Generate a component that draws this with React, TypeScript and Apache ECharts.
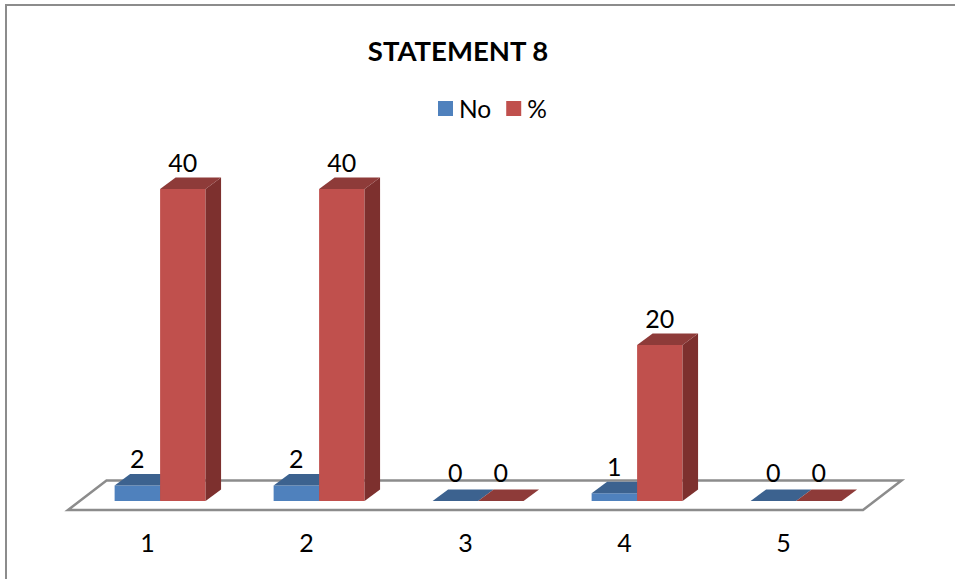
import React, { useEffect, useRef } from "react";
import * as echarts from "echarts";

const categories = ["1", "2", "3", "4", "5"];
const noValues = [2, 2, 0, 1, 0];
const pctValues = [40, 40, 0, 20, 0];
const titleText = "STATEMENT 8";
const FONT = "Lato, 'Open Sans', sans-serif";

const DX = 15.5;
const DY = 11.5;
const FLOOR_DX = 38.5;
const FLOOR_DY = 29.5;

function barRenderer(side: -1 | 1, front: string, top: string, right: string) {
  return (params: any, api: any) => {
    const cat = api.value(0);
    const val = api.value(1);
    const band = api.size([1, 0])[0];
    const w = band * 0.286;
    const base = api.coord([cat, 0]);
    const head = api.coord([cat, val]);
    const cx = base[0] + 12.6;
    const x0 = side < 0 ? cx - w : cx;
    const x1 = x0 + w;
    const yb = base[1] - 9;
    const yt = head[1] - 9;
    const poly = (points: number[][], fill: string) => ({
      type: "polygon",
      shape: { points },
      style: { fill },
    });
    return {
      type: "group",
      children: [
        ...(val > 0
          ? [
              poly([[x0, yb], [x1, yb], [x1, yt], [x0, yt]], front),
              poly([[x1, yb], [x1 + DX, yb - DY], [x1 + DX, yt - DY], [x1, yt]], right),
            ]
          : []),
        poly([[x0, yt], [x1, yt], [x1 + DX, yt - DY], [x0 + DX, yt - DY]], top),
        {
          type: "text",
          x: (x0 + x1) / 2,
          y: yt - (val > 0 ? 27 : 29),
          z2: 20,
          style: {
            text: String(val),
            fill: "#000000",
            font: `25px ${FONT}`,
            align: "center",
            verticalAlign: "middle",
          },
        },
      ],
    };
  };
}

function floorRenderer(params: any, api: any) {
  const g = params.coordSys;
  const l = g.x;
  const r = g.x + g.width;
  const b = g.y + g.height;
  return {
    type: "polygon",
    shape: {
      points: [
        [l, b],
        [r, b],
        [r + FLOOR_DX, b - FLOOR_DY],
        [l + FLOOR_DX, b - FLOOR_DY],
      ],
    },
    style: { fill: "#ffffff", stroke: "#8c8c8c", lineWidth: 2.5 },
  };
}

export default function App() {
  const ref = useRef<HTMLDivElement>(null);
  useEffect(() => {
    const chart = echarts.init(ref.current!, undefined, { renderer: "svg" });
    chart.setOption({
      animation: false,
      backgroundColor: "#ffffff",
      title: {
        text: titleText,
        left: 453,
        top: 31,
        textAlign: "center",
        textStyle: { fontFamily: FONT, fontSize: 27.5, fontWeight: "bold", color: "#000000" },
      },
      legend: {
        left: 433,
        top: 91,
        itemWidth: 15,
        itemHeight: 15,
        itemGap: 15,
        icon: "rect",
        data: ["No", "%"],
        textStyle: { fontFamily: FONT, fontSize: 24.5, color: "#000000", padding: [0, 0, 8, 1] },
      },
      grid: { left: 68, width: 795, top: 198, height: 312 },
      xAxis: {
        type: "category",
        data: categories,
        axisLine: { show: false },
        axisTick: { show: false },
        axisLabel: { fontFamily: FONT, fontSize: 25, color: "#000000", margin: 19 },
      },
      yAxis: { type: "value", min: 0, max: 40, interval: 10, show: false, splitLine: { show: false } },
      graphic: [
        {
          type: "polyline",
          silent: true,
          shape: { points: [[6, 579], [6, 5], [955, 5]] },
          style: { stroke: "#8c8c8c", lineWidth: 2, fill: "none" },
        },
      ],
      series: [
        {
          name: "floor",
          type: "custom",
          renderItem: floorRenderer,
          data: [[0, 0]],
          z: 1,
          silent: true,
        },
        {
          name: "No",
          type: "custom",
          renderItem: barRenderer(-1, "#4f81bd", "#3c628f", "#2f4f75"),
          data: noValues.map((v, i) => [i, v]),
          itemStyle: { color: "#4f81bd" },
          encode: { x: 0, y: 1 },
          z: 2,
        },
        {
          name: "%",
          type: "custom",
          renderItem: barRenderer(1, "#c0504d", "#8e3b39", "#7d302e"),
          data: pctValues.map((v, i) => [i, v]),
          itemStyle: { color: "#c0504d" },
          encode: { x: 0, y: 1 },
          z: 3,
        },
      ],
    });
    return () => chart.dispose();
  }, []);
  return (
    <div
      ref={ref}
      style={{ position: "absolute", left: 0, top: 0, width: 955, height: 579 }}
    />
  );
}
